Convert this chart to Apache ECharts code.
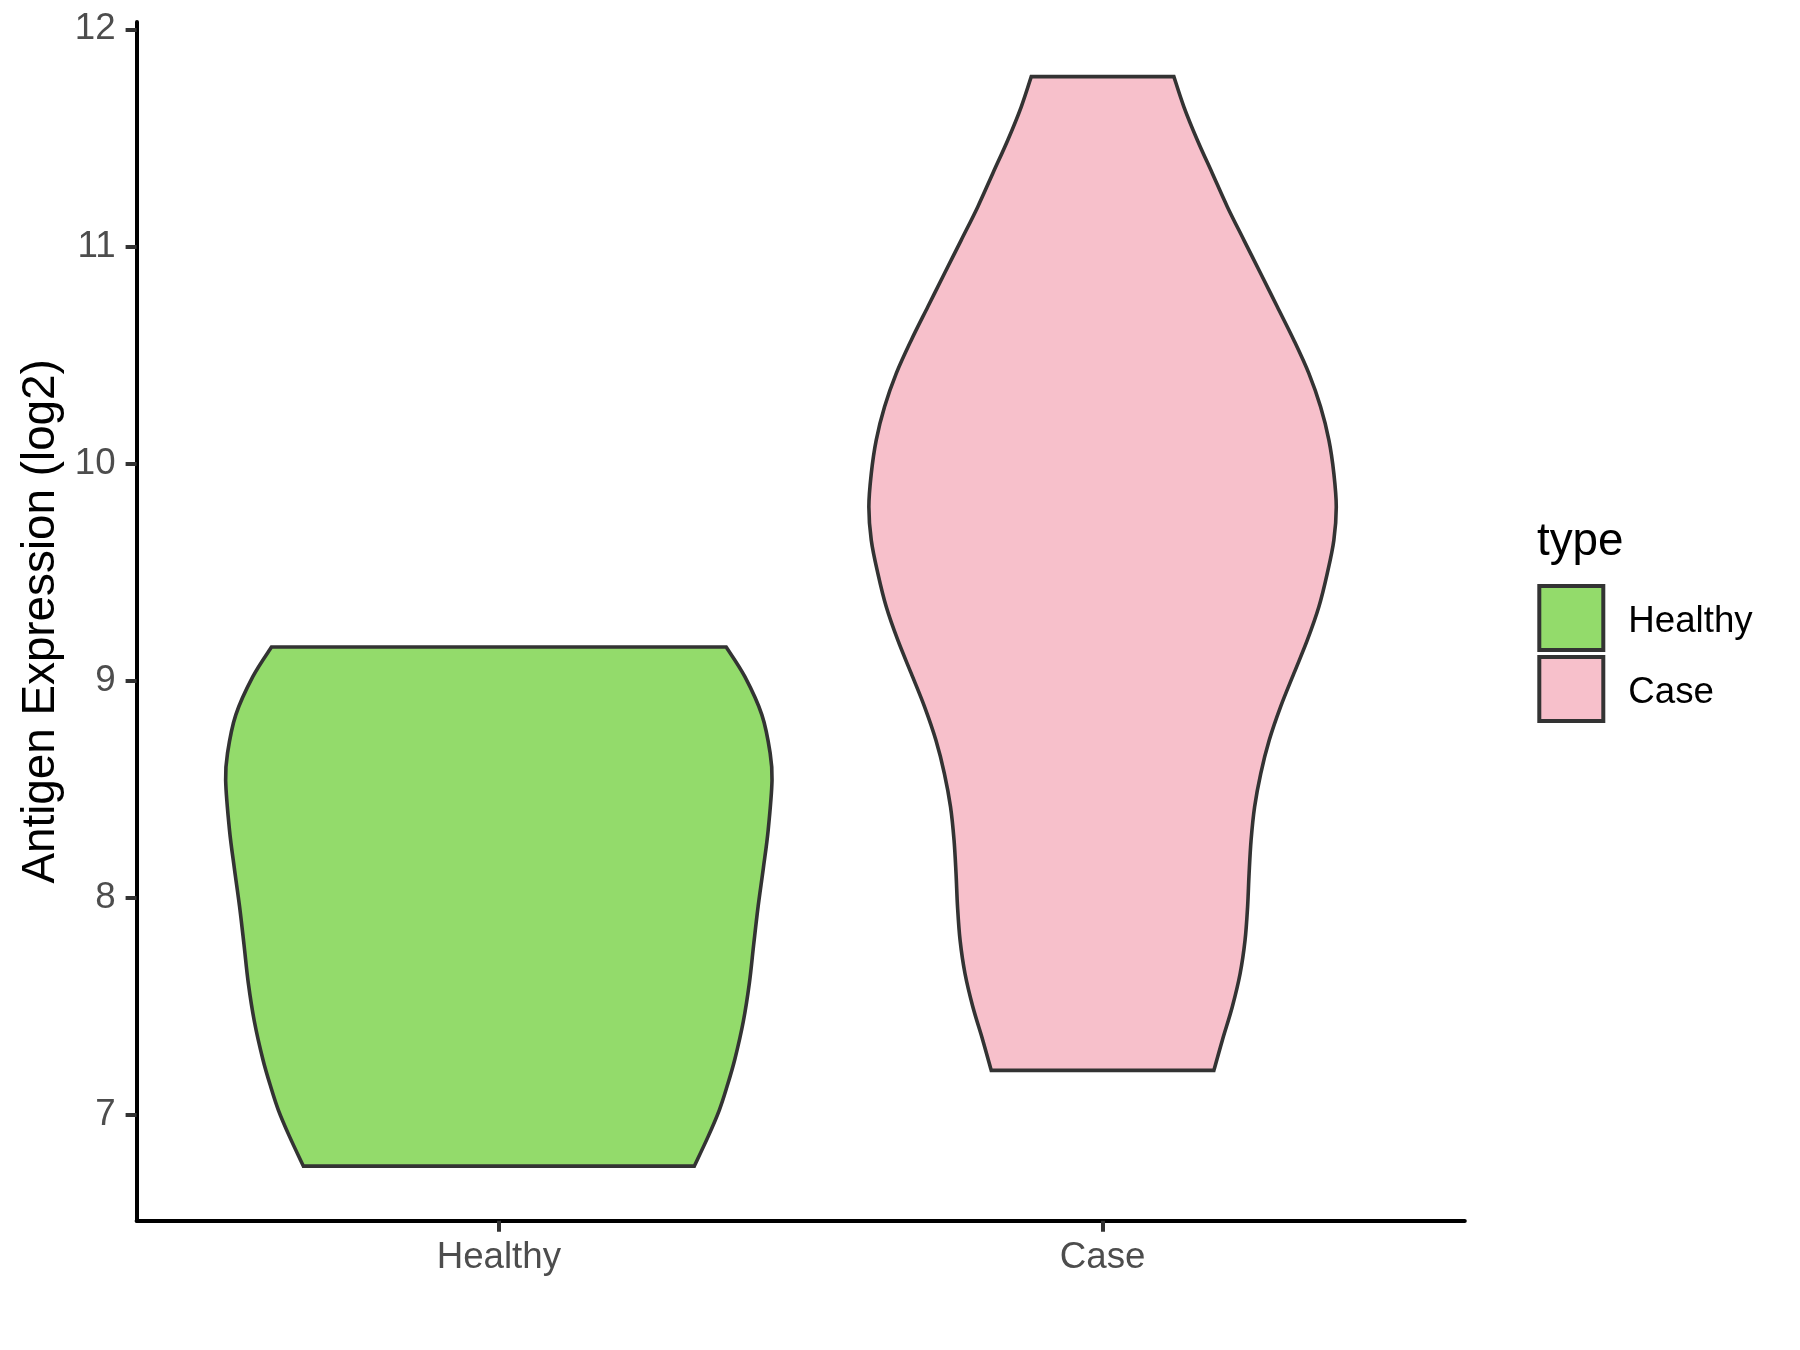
<!DOCTYPE html>
<html>
<head>
<meta charset="utf-8">
<script src="https://cdn.jsdelivr.net/npm/echarts@6/dist/echarts.min.js"></script>
<style>
html,body{margin:0;padding:0;background:#ffffff;}
#chart{width:1800px;height:1350px;}
</style>
</head>
<body>
<div id="chart"></div>
<script>
// ---------------- data ----------------
const categories = ['Healthy', 'Case'];
const yTicks = [7, 8, 9, 10, 11, 12];
const legendTitle = 'type';
const yAxisTitle = 'Antigen Expression (log2)';

// violin outline: expression value and half-width (in category units)
const healthyY = [9.155, 9.018, 8.842, 8.666, 8.541, 8.313, 8.136, 7.961, 7.784, 7.607, 7.431, 7.256, 7.128, 7.022, 6.902, 6.764];
const healthyHalfWidth = [0.3765, 0.4075, 0.4357, 0.4494, 0.4525, 0.4462, 0.4381, 0.4295, 0.4221, 0.4150, 0.4050, 0.3909, 0.3777, 0.3652, 0.3470, 0.3238];

const caseY = [11.782, 11.643, 11.49, 11.337, 11.183, 11.029, 10.876, 10.722, 10.568, 10.415, 10.261, 10.108, 9.954, 9.8, 9.647, 9.494, 9.34, 9.186, 9.033, 8.879, 8.725, 8.572, 8.418, 8.265, 8.111, 7.957, 7.804, 7.65, 7.497, 7.343, 7.205];
const caseHalfWidth = [0.1181, 0.1347, 0.1569, 0.1817, 0.2066, 0.2341, 0.2617, 0.2894, 0.3169, 0.3417, 0.3611, 0.3749, 0.3831, 0.3871, 0.3831, 0.3722, 0.3583, 0.3391, 0.3169, 0.2948, 0.2760, 0.2620, 0.2518, 0.2460, 0.2427, 0.2402, 0.2360, 0.2278, 0.2148, 0.1983, 0.1844];

const fillColors = ['#93DB6B', '#F7C0CB'];
const outlineColor = '#333333';
const FONT = '"Liberation Sans", Arial, Helvetica, sans-serif';

// ---------------- drawing helpers ----------------
function splinePath(pts) {
  let d = '';
  for (let i = 0; i < pts.length - 1; i++) {
    const p0 = pts[Math.max(i - 1, 0)], p1 = pts[i], p2 = pts[i + 1], p3 = pts[Math.min(i + 2, pts.length - 1)];
    const c1x = p1[0] + (p2[0] - p0[0]) / 6, c1y = p1[1] + (p2[1] - p0[1]) / 6;
    const c2x = p2[0] - (p3[0] - p1[0]) / 6, c2y = p2[1] - (p3[1] - p1[1]) / 6;
    d += ' C' + c1x + ' ' + c1y + ' ' + c2x + ' ' + c2y + ' ' + p2[0] + ' ' + p2[1];
  }
  return d;
}

function makeViolin(ys, hws, color) {
  return function (params, api) {
    const pos = api.value(0);
    const left = ys.map((y, i) => api.coord([pos - hws[i], y]));
    const right = ys.map((y, i) => api.coord([pos + hws[i], y])).reverse();
    const d = 'M' + left[0][0] + ' ' + left[0][1] + splinePath(left) +
      ' L' + right[0][0] + ' ' + right[0][1] + splinePath(right) + ' Z';
    return {
      type: 'path',
      shape: { pathData: d },
      style: { fill: color, stroke: outlineColor, lineWidth: 3.6, lineJoin: 'miter' }
    };
  };
}

// ---------------- chart ----------------
const chart = echarts.init(document.getElementById('chart'), null, { renderer: 'canvas' });

const option = {
  backgroundColor: '#ffffff',
  animation: false,
  grid: { left: 136.6, top: 22.1, width: 1328.2, height: 1198.6, containLabel: false },
  xAxis: {
    type: 'value',
    min: 0.4,
    max: 2.6,
    splitLine: { show: false },
    axisLine: { show: true, onZero: false, lineStyle: { color: '#000000', width: 4 } },
    axisTick: { show: true, length: 11, customValues: [1, 2], lineStyle: { color: '#333333', width: 4 } },
    axisLabel: {
      show: true,
      customValues: [1, 2],
      margin: 19,
      formatter: v => categories[Math.round(v) - 1] || '',
      color: '#4D4D4D',
      fontSize: 36.7,
      fontFamily: FONT
    }
  },
  yAxis: {
    type: 'value',
    min: 6.5125,
    max: 12.033,
    name: yAxisTitle,
    nameLocation: 'middle',
    nameGap: 71,
    nameTextStyle: { color: '#000000', fontSize: 45.8, fontFamily: FONT },
    splitLine: { show: false },
    axisLine: { show: true, onZero: false, lineStyle: { color: '#000000', width: 4 } },
    axisTick: { show: true, length: 11, customValues: yTicks, lineStyle: { color: '#333333', width: 4 } },
    axisLabel: {
      show: true,
      customValues: yTicks,
      margin: 21,
      color: '#4D4D4D',
      fontSize: 36.7,
      fontFamily: FONT
    }
  },
  legend: {
    orient: 'vertical',
    left: 1537.3,
    top: 584,
    padding: 0,
    itemWidth: 64,
    itemHeight: 64,
    itemGap: 3,
    selectedMode: false,
    icon: 'rect',
    formatter: '{t|{name}}',
    textStyle: {
      color: '#000000', fontSize: 36.7, fontFamily: FONT,
      rich: { t: { color: '#000000', fontSize: 36.7, fontFamily: FONT, padding: [7, 0, 0, 20] } }
    },
    data: categories.map((c, i) => ({
      name: c,
      icon: 'rect',
      itemStyle: { color: fillColors[i], borderColor: outlineColor, borderWidth: 4 }
    }))
  },
  graphic: [{
    type: 'text',
    x: 1537,
    y: 542,
    style: { text: legendTitle, fill: '#000000', font: '45.8px ' + FONT, verticalAlign: 'middle', align: 'left' }
  }],
  series: [
    {
      name: categories[0],
      type: 'custom',
      coordinateSystem: 'cartesian2d',
      itemStyle: { color: fillColors[0], borderColor: outlineColor },
      renderItem: makeViolin(healthyY, healthyHalfWidth, fillColors[0]),
      data: [[1, healthyY[0]]],
      silent: true
    },
    {
      name: categories[1],
      type: 'custom',
      coordinateSystem: 'cartesian2d',
      itemStyle: { color: fillColors[1], borderColor: outlineColor },
      renderItem: makeViolin(caseY, caseHalfWidth, fillColors[1]),
      data: [[2, caseY[0]]],
      silent: true
    }
  ]
};

chart.setOption(option);
</script>
</body>
</html>
